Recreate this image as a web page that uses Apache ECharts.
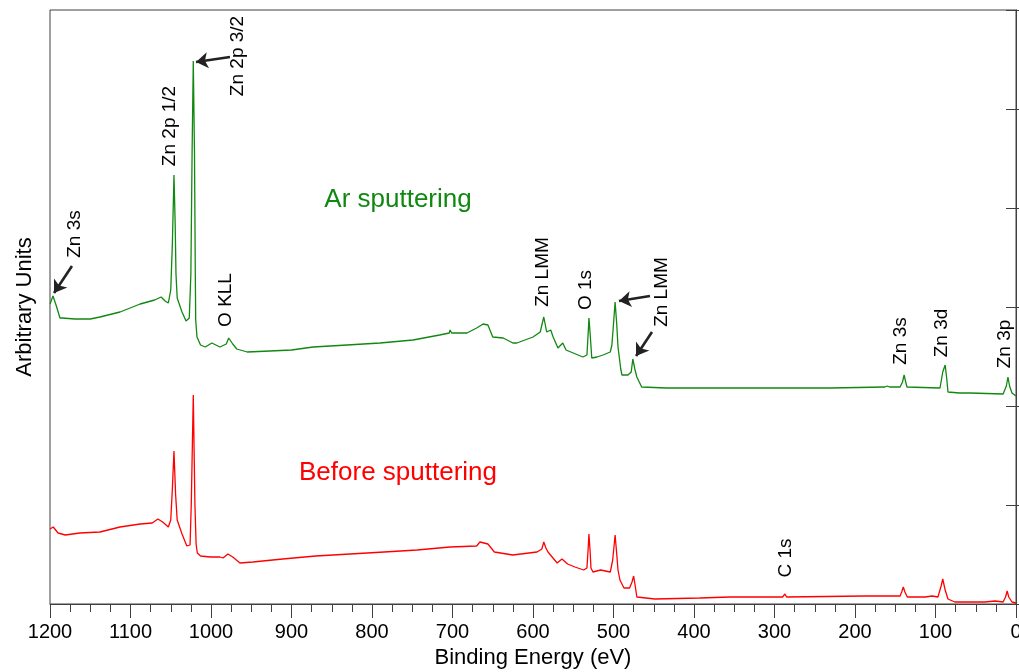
<!DOCTYPE html>
<html>
<head>
<meta charset="utf-8">
<script src="https://cdn.jsdelivr.net/npm/echarts@6/dist/echarts.min.js"></script>
<style>html,body{margin:0;padding:0;background:#fff}#c{width:1019px;height:672px}</style>
</head>
<body>
<div id="c"></div>
<script>
// Binding energy (eV) and intensity (arbitrary units) for the Ar-sputtered spectrum
var arEnergy = [1200,1196.3,1192.5,1187.6,1185,1169,1150,1138,1113,1088,1070,1062,1057,1053,1050,1048,1046,1044.5,1043.5,1042,1036,1031,1027,1025,1023.5,1022,1020.5,1019.5,1019,1017.4,1013,1007,999,989,981,978,973,968,955,927,900,873,831,790,749,716,704,703,701,682,670,662,656,650,637,625,620,600,591,589,586.6,583,578,575,569,563,559,550,538,533,531.5,530.5,529,527,520.5,513,504,502,500,498,496,494.4,491,489.5,482,478,476,473.5,471,465,434,396,318,231,163,160,157,144,141,139,137,135.4,94.4,91,88,86,84.5,70,57,16,12,10,8,5,0];
var arIntensity = [300,308,299,286,286,285,285,287,292,300,304,307,303,301,314,360,429,380,330,306,292,283,286,330,450,543,450,330,284,267,259,257,261,257,260,266,260,255,252,253,254,257,259,261,264,269,271,274,271,271,276,280,279,267,266,261,261,267,272,279,287,272,274,267,256,261,254,251,247,249,270,286,270,246,247,249,252,259,280,302,280,257,235,229,229,232,245,235,227,217,216,216,216,216,217,218,217,217,222,229,222,217,216,232,239,225,212,211,211,210,218,227,218,211,208];

// Before sputtering spectrum
var beEnergy = [1200,1196,1194,1190,1181,1163,1138,1113,1088,1073,1066,1060,1053,1050,1048,1046,1044,1042,1036,1030,1026,1024.5,1022,1020,1018.5,1017,1013,1001,989,985,979,973,964,948,911,870,827,785,744,703,670,666,661,656,648,625,595,589,586.6,584,581.4,570,564,557,548,537,533,531.5,530.5,529,528,525.5,516,504,501,498,496,494.4,492,487,480,477,475,473,471,448.5,393,355,290,287,285,188,144,142,140,138,135,113,104,97,93,91,88,84.5,76,39,26,16,13,11,9,5,0];
var beIntensity = [75,77,76,71,69,71,72,77,80,81,85,82,77,84,115,153,110,84,70,58,59,100,209,100,60,51,48,47,47,46,50,47,41,42,45,48,50,52,54,57,58,62,61,60,52,49,52,55,62,56,52,41,45,40,37,34,36,55,70,52,36,32,34,32,44,69,50,34,24,16,16,22,28,18,7,5,6,7,7,10,7,8,8,12,17,12,7,7,8,7,18,25,14,5,2,2,3,2,7,13,7,2,1];

// Axis ticks
var xTicks = {min: 0, max: 1200, step: 100};
var yTicks = {min: 0, max: 594, step: 99};

// Peak annotations: label, energy, intensity at label centre
var peakLabels = ['Zn 3s','Zn 2p 1/2','Zn 2p 3/2','O KLL','Zn LMM','O 1s','Zn LMM','Zn 3s','Zn 3d','Zn 3p','C 1s'];
var peakLabelE = [1168.9,1050.9,966.5,981.4,587.6,534.2,439.8,142.9,92,13.7,285.7];
var peakLabelY = [370,478,548,304,332,314,312,263,271,260,46];

// Arrows: start (energy, intensity) -> end (energy, intensity)
var arrowStart = [[1172.7,338],[976.4,547],[454.7,308],[452.2,272]];
var arrowEnd = [[1195,311],[1018.6,542],[493.2,303],[472,248]];

// Series titles
var seriesNames = ['Ar sputtering','Before sputtering'];
var seriesTitleE = [767.7,767.7];
var seriesTitleY = [404,131];

var green = '#118811', red = '#ff0000', axisColor = '#404040';
var font = 'Liberation Sans, Arial, sans-serif';

function zip(a, b){ return a.map(function(v,i){ return [v, b[i]]; }); }

var chart = echarts.init(document.getElementById('c'), null, {renderer:'canvas'});
var option = {
  animation: false,
  backgroundColor: '#fff',
  grid: {left: 50, right: 3, top: 10, bottom: 68, show: true, borderColor: axisColor, borderWidth: 1, containLabel: false, outerBoundsMode: 'none'},
  xAxis: {
    type: 'value', inverse: true, min: xTicks.min, max: xTicks.max, interval: xTicks.step,
    name: 'Binding Energy (eV)', nameLocation: 'middle', nameGap: 40,
    nameTextStyle: {fontSize: 22, color: '#000', fontFamily: font},
    axisLine: {show: true, onZero: false, lineStyle: {color: axisColor, width: 1}},
    axisTick: {show: true, inside: false, length: 14, lineStyle: {color: axisColor}},
    minorTick: {show: true, splitNumber: 4, length: 8, lineStyle: {color: axisColor}},
    axisLabel: {fontSize: 20, color: '#000', fontFamily: font, margin: 18, formatter: function(v){ return String(v); }},
    splitLine: {show: false}
  },
  yAxis: [{
    type: 'value', min: yTicks.min, max: yTicks.max, interval: yTicks.step,
    name: 'Arbitrary Units', nameLocation: 'middle', nameGap: 14,
    nameTextStyle: {fontSize: 22, color: '#000', fontFamily: font},
    axisLine: {show: true, lineStyle: {color: axisColor}},
    axisTick: {show: true, inside: false, length: 10, lineStyle: {color: axisColor}},
    axisLabel: {show: false},
    splitLine: {show: false}
  },{
    type: 'value', position: 'right', min: yTicks.min, max: yTicks.max, interval: yTicks.step,
    axisLine: {show: true, lineStyle: {color: axisColor}},
    axisTick: {show: true, inside: false, length: 4, lineStyle: {color: axisColor}},
    axisLabel: {show: false},
    splitLine: {show: false}
  }],
  series: [{
    name: seriesNames[0], type: 'line', data: zip(arEnergy, arIntensity),
    showSymbol: false, symbol: 'none', lineStyle: {color: green, width: 1.3}, silent: true,
    markLine: {
      silent: true, symbol: ['none','arrow'], symbolSize: 12,
      lineStyle: {color: '#222', width: 2.6, type: 'solid'},
      label: {show: false},
      data: arrowStart.map(function(s,i){ return [{coord: s}, {coord: arrowEnd[i]}]; })
    }
  },{
    name: seriesNames[1], type: 'line', data: zip(beEnergy, beIntensity),
    showSymbol: false, symbol: 'none', lineStyle: {color: red, width: 1.3}, silent: true
  }]
};
chart.setOption(option);

var graphics = [];
peakLabels.forEach(function(t,i){
  var p = chart.convertToPixel({xAxisIndex:0, yAxisIndex:0}, [peakLabelE[i], peakLabelY[i]]);
  graphics.push({type:'text', x:p[0], y:p[1], rotation: Math.PI/2, silent:true,
    style:{text:t, fill:'#000', font:'19px ' + font, align:'center', verticalAlign:'middle'}});
});
[green, red].forEach(function(c,i){
  var p = chart.convertToPixel({xAxisIndex:0, yAxisIndex:0}, [seriesTitleE[i], seriesTitleY[i]]);
  graphics.push({type:'text', x:p[0], y:p[1], silent:true,
    style:{text:seriesNames[i], fill:c, font:'26px ' + font, align:'center', verticalAlign:'middle'}});
});
chart.setOption({graphic: graphics});
</script>
</body>
</html>
